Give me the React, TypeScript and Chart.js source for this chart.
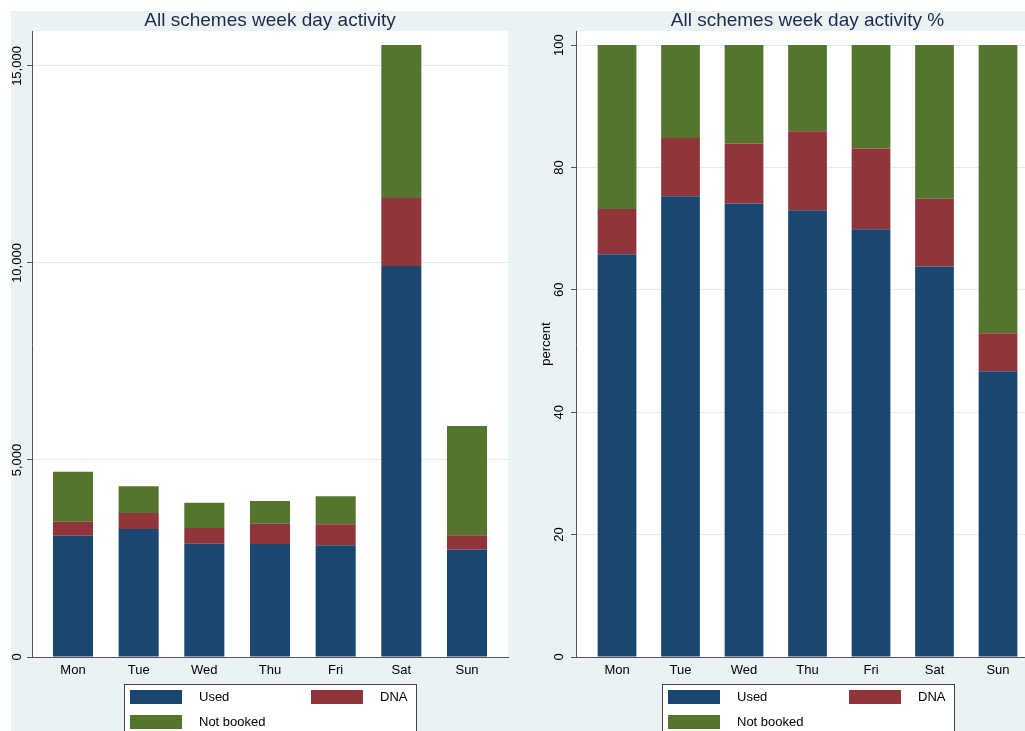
import React, { useEffect, useRef } from "react";
import { Chart, registerables } from "chart.js";

Chart.register(...registerables);

const days = ["Mon", "Tue", "Wed", "Thu", "Fri", "Sat", "Sun"];
const seriesNames = ["Used", "DNA", "Not booked"];
const seriesColors = ["#1a476f", "#90353b", "#55752f"];

const usedCounts = [3079, 3249, 2876, 2868, 2835, 9924, 2723];
const dnaCounts = [355, 406, 398, 515, 532, 1726, 365];
const notBookedCounts = [1269, 677, 642, 576, 711, 3883, 2775];

const usedPct = [65.8, 75.3, 74.1, 73.0, 69.9, 63.8, 46.7];
const dnaPct = [7.4, 9.5, 9.8, 12.9, 13.2, 11.1, 6.2];
const notBookedPct = [26.8, 15.2, 16.1, 14.1, 16.9, 25.1, 47.1];

const countTicks = [0, 5000, 10000, 15000];
const pctTicks = [0, 20, 40, 60, 80, 100];

const FONT = '"Liberation Sans", Arial, Helvetica, sans-serif';
const BG = "#eaf2f3";
const AXIS = "#555555";
const TITLE_COLOR = "#1c2b4d";

type PanelProps = {
  left: number;
  width: number;
  title: string;
  series: number[][];
  yMax: number;
  yTicks: number[];
  yAxisWidth: number;
  yLabelOffset: number;
  padRight: number;
  xMin: number;
  xMax: number;
  extendRight: number;
  yTitle?: string;
};

function Panel(p: PanelProps) {
  const ref = useRef<HTMLCanvasElement | null>(null);
  useEffect(() => {
    const canvas = ref.current;
    if (!canvas) return;
    const fmt = (v: number) => v.toLocaleString("en-US");
    const plugin = {
      id: "panelDecor",
      beforeDraw(chart: any) {
        const { ctx, chartArea: a } = chart;
        ctx.save();
        ctx.fillStyle = "#ffffff";
        ctx.fillRect(a.left, a.top, a.right - a.left, a.bottom - a.top);
        ctx.restore();
      },
      afterDraw(chart: any) {
        const { ctx, chartArea: a, scales } = chart;
        const y = scales.y;
        const cx = (a.left + a.right + p.extendRight) / 2;
        ctx.save();
        // title
        ctx.fillStyle = TITLE_COLOR;
        ctx.font = `19px ${FONT}`;
        ctx.textAlign = "center";
        ctx.textBaseline = "alphabetic";
        ctx.fillText(p.title, cx, 15);
        // y tick labels (rotated)
        ctx.fillStyle = "#000";
        ctx.font = `13px ${FONT}`;
        for (const t of y.ticks) {
          const py = y.getPixelForValue(t.value);
          ctx.save();
          ctx.translate(a.left - p.yLabelOffset, py);
          ctx.rotate(-Math.PI / 2);
          ctx.textAlign = "center";
          ctx.textBaseline = "middle";
          ctx.fillText(fmt(t.value), 0, 0);
          ctx.restore();
        }
        if (p.yTitle) {
          ctx.save();
          ctx.translate(a.left - 30, (a.top + a.bottom) / 2);
          ctx.rotate(-Math.PI / 2);
          ctx.textAlign = "center";
          ctx.textBaseline = "middle";
          ctx.fillText(p.yTitle, 0, 0);
          ctx.restore();
        }
        // legend
        const bw = 292;
        const bx = Math.round(cx - bw / 2);
        const by = Math.round(a.bottom + 27);
        ctx.fillStyle = "#ffffff";
        ctx.fillRect(bx, by, bw, 100);
        ctx.strokeStyle = "#444";
        ctx.lineWidth = 1;
        ctx.strokeRect(bx + 0.5, by + 0.5, bw, 100);
        const slots = [
          { dx: 6, row: 0 },
          { dx: 187, row: 0 },
          { dx: 6, row: 1 },
        ];
        chart.data.datasets.forEach((ds: any, i: number) => {
          const s = slots[i];
          const sy = by + 6 + s.row * 25;
          ctx.fillStyle = ds.backgroundColor;
          ctx.fillRect(bx + s.dx, sy, 52, 14);
          ctx.fillStyle = "#000";
          ctx.font = `13px ${FONT}`;
          ctx.textAlign = "left";
          ctx.textBaseline = "middle";
          ctx.fillText(ds.label, bx + s.dx + 69, sy + 7.5);
        });
        ctx.restore();
      },
    };

    const chart = new Chart(canvas, {
      type: "bar",
      data: {
        datasets: p.series.map((vals, i) => ({
          label: seriesNames[i],
          data: vals.map((v, j) => ({ x: j, y: v })),
          backgroundColor: seriesColors[i],
          borderWidth: 0,
          barPercentage: 0.61,
          categoryPercentage: 1,
        })),
      },
      options: {
        responsive: false,
        animation: false,
        layout: { padding: { top: 20, right: p.padRight, bottom: 0, left: 0 } },
        plugins: {
          legend: { display: false },
          title: { display: false },
          tooltip: { enabled: false },
        },
        scales: {
          x: {
            type: "linear",
            stacked: true,
            offset: false,
            min: p.xMin,
            max: p.xMax,
            grid: { display: false, offset: false, drawTicks: false },
            border: { display: true, color: AXIS, width: 1 },
            ticks: {
              stepSize: 1,
              autoSkip: false,
              maxRotation: 0,
              includeBounds: false,
              padding: 6,
              color: "#000",
              font: { family: FONT, size: 13 },
              callback: (v: any) => days[v] ?? "",
            },
            afterFit: (s: any) => {
              s.height = 74;
            },
          },
          y: {
            type: "linear",
            stacked: true,
            min: 0,
            max: p.yMax,
            grid: {
              color: (c: any) =>
                c.tick && c.tick.value === 0 ? "rgba(0,0,0,0)" : "#e3edee",
              tickColor: AXIS,
              tickLength: 5,
              lineWidth: 1,
            },
            border: { display: true, color: AXIS, width: 1 },
            ticks: { display: false, includeBounds: false },
            afterBuildTicks: (s: any) => {
              s.ticks = p.yTicks.map((v) => ({ value: v }));
            },
            afterFit: (s: any) => {
              s.width = p.yAxisWidth;
            },
          },
        },
      },
      plugins: [plugin],
    } as any);
    return () => chart.destroy();
  }, []);
  return (
    <canvas
      ref={ref}
      width={p.width}
      height={720}
      style={{ position: "absolute", left: p.left, top: 11, width: p.width, height: 720 }}
    />
  );
}

export default function App() {
  useEffect(() => {
    document.body.style.margin = "0";
  }, []);
  return (
    <div style={{ position: "relative", width: 1025, height: 731, background: "#fff", overflow: "hidden" }}>
      <div style={{ position: "absolute", left: 11, top: 11, width: 1014, height: 720, background: BG }} />
      <Panel
        left={11}
        width={499}
        title="All schemes week day activity"
        series={[usedCounts, dnaCounts, notBookedCounts]}
        yMax={15888}
        yTicks={countTicks}
        yAxisWidth={21}
        yLabelOffset={15}
        padRight={2}
        xMin={-0.624}
        xMax={6.624}
        extendRight={0}
      />
      <Panel
        left={510}
        width={515}
        title="All schemes week day activity %"
        series={[usedPct, dnaPct, notBookedPct]}
        yMax={102.3}
        yTicks={pctTicks}
        yAxisWidth={66}
        yLabelOffset={17}
        padRight={0}
        xMin={-0.646}
        xMax={6.425}
        extendRight={14}
        yTitle="percent"
      />
    </div>
  );
}
